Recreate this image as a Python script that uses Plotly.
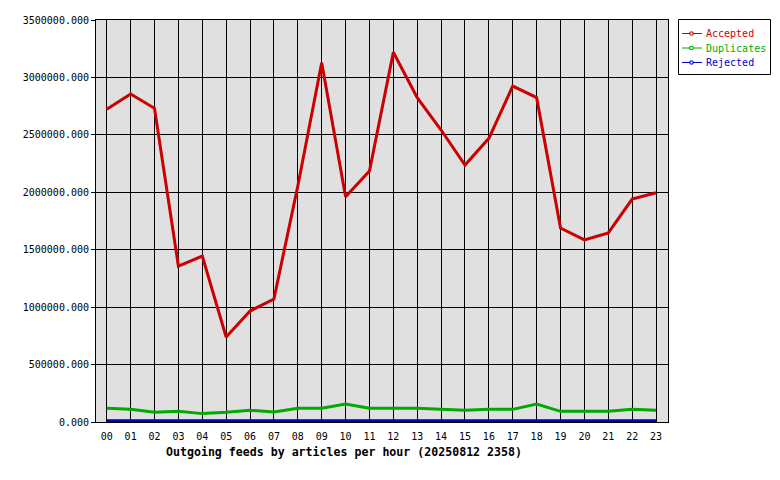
import plotly.graph_objects as go

hours = ["00", "01", "02", "03", "04", "05", "06", "07", "08", "09", "10", "11",
         "12", "13", "14", "15", "16", "17", "18", "19", "20", "21", "22", "23"]
accepted = [2722000, 2856000, 2731000, 1358000, 1445000, 740000, 966000, 1071000,
            2055000, 3128000, 1962000, 2185000, 3219000, 2824000, 2542000, 2237000,
            2470000, 2925000, 2824000, 1689000, 1585000, 1646000, 1941000, 1996000]
duplicates = [119000, 110000, 84000, 93000, 73000, 84000, 102000, 87000,
              119000, 119000, 157000, 119000, 119000, 119000, 110000, 102000,
              110000, 110000, 157000, 93000, 93000, 93000, 110000, 102000]
rejected = [11000, 11000, 11000, 11000, 11000, 11000, 11000, 11000,
            11000, 11000, 11000, 11000, 11000, 11000, 11000, 11000,
            11000, 11000, 11000, 11000, 11000, 11000, 11000, 11000]
series_names = ["Accepted", "Duplicates", "Rejected"]
series_colors = ["#cc0000", "#00aa00", "#0000cc"]
yticks = [0, 500000, 1000000, 1500000, 2000000, 2500000, 3000000, 3500000]
title_text = "Outgoing feeds by articles per hour (20250812 2358)"

MONO = "DejaVu Sans Mono"
W, H = 780, 480
# plot area in page pixels: x 96..668, y 20..422
PL, PRt, PT, PB = 96, 668, 20, 422
L, T, R, B = PL, PT, W - PRt, H - PB
PW, PH = PRt - PL, PB - PT

fig = go.Figure()
for name, vals, col in zip(series_names, [accepted, duplicates, rejected], series_colors):
    fig.add_trace(go.Scatter(x=hours, y=vals, mode="lines", name=name,
                             line=dict(color=col, width=3), showlegend=False,
                             hoverinfo="skip"))

def px_x(px):
    return (px - PL) / PW

def px_y(py):
    return (PB - py) / PH

shapes = [dict(type="rect", xref="paper", yref="paper",
               x0=px_x(678.5), x1=px_x(770.5), y0=px_y(74.5), y1=px_y(19.5),
               line=dict(color="black", width=1), fillcolor="white")]
annotations = []
rows = [33.5, 48, 62.5]
for name, col, ry in zip(series_names, series_colors, rows):
    shapes.append(dict(type="line", xref="paper", yref="paper",
                       x0=px_x(682), x1=px_x(702), y0=px_y(ry), y1=px_y(ry),
                       line=dict(color=col, width=1)))
    shapes.append(dict(type="rect", xref="paper", yref="paper",
                       x0=px_x(690), x1=px_x(693), y0=px_y(ry + 1.5), y1=px_y(ry - 1.5),
                       line=dict(color=col, width=1), fillcolor="white"))
    annotations.append(dict(text=name, xref="paper", yref="paper",
                            x=px_x(704), y=px_y(ry), xanchor="left", yanchor="middle",
                            showarrow=False, font=dict(family=MONO, size=10, color=col)))

annotations.append(dict(text="<b>" + title_text + "</b>", xref="paper", yref="paper",
                        x=px_x(164), y=px_y(452), xanchor="left", yanchor="middle",
                        showarrow=False, font=dict(family=MONO, size=11.6, color="black")))

fig.update_layout(
    width=W, height=H,
    margin=dict(l=L, r=R, t=T, b=B, pad=0, autoexpand=False),
    paper_bgcolor="white", plot_bgcolor="#e0e0e0",
    shapes=shapes, annotations=annotations,
    showlegend=False, hovermode=False,
    font=dict(family=MONO, size=10, color="black"),
)
fig.update_xaxes(type="category", range=[-0.45, 23.5],
                 showgrid=True, gridcolor="black", gridwidth=1,
                 showline=True, linecolor="black", linewidth=1, mirror=True,
                 ticks="", ticklabelstandoff=5,
                 tickfont=dict(family=MONO, size=10, color="black"),
                 automargin=False, fixedrange=True)
fig.update_yaxes(range=[0, 3500000], tickvals=yticks, tickformat=".3f",
                 showgrid=True, gridcolor="black", gridwidth=1, zeroline=False,
                 showline=True, linecolor="black", linewidth=1, mirror=True,
                 ticks="outside", ticklen=4, tickcolor="black",
                 tickfont=dict(family=MONO, size=10, color="black"),
                 automargin=False, fixedrange=True)

fig.write_html("out.html", config={"displayModeBar": False, "staticPlot": True},
               post_script="document.body.style.margin='0';document.body.style.overflow='hidden';")
